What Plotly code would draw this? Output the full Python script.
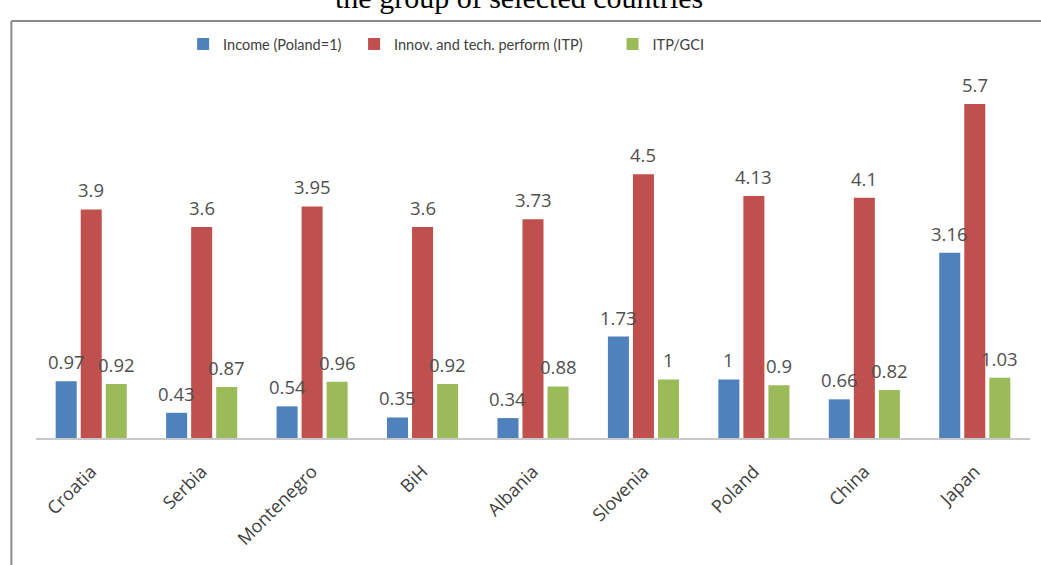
import plotly.graph_objects as go

countries = ["Croatia", "Serbia", "Montenegro", "BiH", "Albania", "Slovenia", "Poland", "China", "Japan"]
income = [0.97, 0.43, 0.54, 0.35, 0.34, 1.73, 1.0, 0.66, 3.16]
itp = [3.9, 3.6, 3.95, 3.6, 3.73, 4.5, 4.13, 4.1, 5.7]
itp_gci = [0.92, 0.87, 0.96, 0.92, 0.88, 1.0, 0.9, 0.82, 1.03]

series_names = ["Income (Poland=1)", "Innov. and tech. perform (ITP)", "ITP/GCI"]
colors = ["#4F81BD", "#C0504D", "#9BBB59"]
legend_ids = ["legend", "legend2", "legend3"]
legend_x = [0.148, 0.320, 0.580]

BARGAP = 0.32
LABEL_FONT = dict(family="Open Sans, sans-serif", size=18.5, color="#505050")


def fmt(v):
    return f"{v:.2f}".rstrip("0").rstrip(".")


fig = go.Figure()
for k, (name, vals, col, lid) in enumerate(zip(series_names, [income, itp, itp_gci], colors, legend_ids)):
    fig.add_trace(go.Bar(
        x=countries, y=vals, name=name, legend=lid,
        marker=dict(color=col, line=dict(width=0)),
    ))
    slot = (1 - BARGAP) / 3
    for i, v in enumerate(vals):
        fig.add_annotation(
            x=i + (k - 1) * slot, y=v, xref="x", yref="y",
            text=fmt(v), showarrow=False, xanchor="center", yanchor="bottom",
            yshift=5, font=LABEL_FONT,
        )

legend_common = dict(y=1.034, yanchor="middle", xanchor="left", bgcolor="rgba(0,0,0,0)",
                     font=dict(family="Lato, sans-serif", size=14.5, color="#404040"),
                     itemwidth=30)

fig.update_layout(
    width=1041, height=565,
    margin=dict(l=36, r=11, t=57, b=127),
    paper_bgcolor="white", plot_bgcolor="white",
    barmode="group", bargap=BARGAP, bargroupgap=0.16,
    showlegend=True,
    legend=dict(x=legend_x[0], **legend_common),
    legend2=dict(x=legend_x[1], **legend_common),
    legend3=dict(x=legend_x[2], **legend_common),
    xaxis=dict(tickangle=-45, showline=True, linecolor="#C8C8C8", linewidth=2,
               ticks="", ticklabelstandoff=14,
               tickfont=dict(family="Open Sans, sans-serif", size=18, color="#404040"),
               showgrid=False),
    yaxis=dict(range=[0, 6.5], visible=False, showgrid=False),
    font=dict(family="Open Sans, sans-serif"),
)

fig.add_shape(type="line", xref="paper", yref="paper", x0=-0.0248, x1=1.05, y0=1.0945, y1=1.0945,
              line=dict(color="#8C8C8C", width=2))
fig.add_shape(type="line", xref="paper", yref="paper", x0=-0.0248, x1=-0.0248, y0=1.0945, y1=-0.5,
              line=dict(color="#8C8C8C", width=2))

fig.add_annotation(text="the group of selected countries", xref="paper", yref="paper",
                   x=0.486, y=1.155, xanchor="center", yanchor="middle", showarrow=False,
                   font=dict(family="Liberation Serif, Times New Roman, serif", size=30, color="black"))

fig.write_html("out.html")
